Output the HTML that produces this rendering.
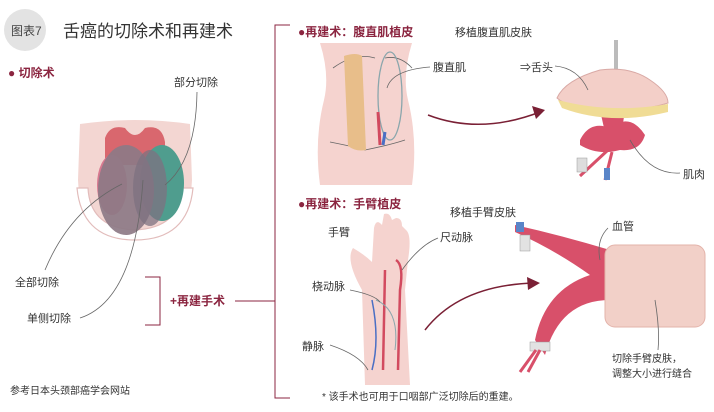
<!DOCTYPE html>
<html><head><meta charset="utf-8"><style>
html,body{margin:0;padding:0;background:#fff;}
svg{display:block;font-family:"Liberation Sans","Noto Sans CJK SC",sans-serif;}
.t{font-size:11px;fill:#333;}
.h{font-size:12px;font-weight:bold;fill:#8b2540;}
.ln{fill:none;stroke:#666;stroke-width:0.8;}
</style></head><body>
<svg width="714" height="412" viewBox="0 0 714 412">
<!-- title -->
<circle cx="25" cy="30" r="21" fill="#e3e3e3"/>
<text x="11" y="35" style="font-size:12px" fill="#444">图表7</text>
<text x="63" y="37" style="font-size:17px" fill="#333">舌癌的切除术和再建术</text>
<text x="8" y="77" class="h">● 切除术</text>
<text x="174" y="86" class="t">部分切除</text>
<!-- tongue -->
<path d="M80 124 Q135 116 190 124 L192 180 Q190 236 135 238 Q80 236 78 180 Z" fill="#f3d6d2"/>
<path d="M77 188 Q82 240 135 240 Q188 240 193 188 L182 188 Q180 228 135 230 Q90 228 88 188 Z" fill="#fff" stroke="#e2bcbb" stroke-width="1.2"/>
<path d="M105 138 Q110 124 125 128 Q135 142 145 128 Q162 124 165 142 L165 165 L105 165 Z" fill="#d9676e"/>
<ellipse cx="112" cy="185" rx="15" ry="30" fill="#d87990"/>
<ellipse cx="162" cy="183" rx="22" ry="38" fill="#4f9d8e"/>
<ellipse cx="126" cy="190" rx="28" ry="45" fill="#8d7a86" opacity="0.92"/>
<ellipse cx="150" cy="188" rx="17" ry="38" fill="#7e7280" opacity="0.75"/>
<path class="ln" d="M197 92 Q196 160 165 185"/>
<path class="ln" d="M122 184 Q70 210 45 270"/>
<path class="ln" d="M143 180 Q135 300 80 318"/>
<text x="15" y="286" class="t">全部切除</text>
<text x="27" y="322" class="t">单侧切除</text>
<path d="M145 277 H160 V325 H145" fill="none" stroke="#8b2540" stroke-width="1"/>
<text x="170" y="305" class="h">+再建手术</text>
<path d="M235 301 H275 M290 25 H275 V398 H290" fill="none" stroke="#8b2540" stroke-width="1"/>
<text x="10" y="394" style="font-size:10px" fill="#333">参考日本头颈部癌学会网站</text>
<!-- abdomen -->
<text x="298" y="36" class="h">●再建术：腹直肌植皮</text>
<text x="455" y="36" class="t">移植腹直肌皮肤</text>
<path d="M320 43 H412 Q402 75 408 100 Q418 140 412 185 H320 Q314 140 324 100 Q330 75 320 43 Z" fill="#f5d3cf"/>
<path d="M333 68 Q355 52 375 58 M385 58 Q400 55 412 68 M330 142 Q360 148 365 150 Q390 145 405 140" class="ln" stroke="#d7a8a6"/>
<path d="M344 56 Q356 52 362 56 L366 150 Q356 152 348 146 Z" fill="#e8be8a"/>
<ellipse cx="390" cy="96" rx="12" ry="44" fill="none" stroke="#8aa6ac" stroke-width="1.3"/>
<path d="M378 112 L380 145" stroke="#d24a5f" stroke-width="3"/><path d="M385 132 L383 145" stroke="#4a6fc4" stroke-width="3"/>
<path class="ln" d="M387 88 Q392 70 430 67"/>
<text x="433" y="71" class="t">腹直肌</text>
<path d="M428 115 Q480 135 540 112" fill="none" stroke="#7a2035" stroke-width="1.5"/>
<path d="M545 110 L532 106 L536 119 Z" fill="#7a2035"/>
<!-- tongue flap -->
<rect x="614" y="40" width="4" height="37" fill="#bbb"/>
<path d="M600 110 L625 110 L622 130 L604 128 Z" fill="#d8506a"/>
<path d="M580 140 Q590 120 610 128 Q630 112 645 135 Q640 152 620 150 Q598 156 580 145 Z" fill="#d8506a"/>
<path d="M557 98 Q565 80 600 70 Q630 66 650 80 Q668 92 668 103 Q640 112 600 110 Q568 108 557 98 Z" fill="#f3cfc8" stroke="#d9a9a5"/>
<path d="M558 100 Q610 114 668 104 L668 112 Q610 126 562 108 Z" fill="#f0dc95"/>
<path d="M608 150 L580 176 M612 152 L605 180" stroke="#d8506a" stroke-width="3"/>
<rect x="577" y="158" width="10" height="14" fill="#ddd" stroke="#999" stroke-width="0.5"/>
<rect x="604" y="168" width="6" height="12" fill="#5a85c8"/>
<path class="ln" d="M555 66 Q578 68 588 90"/>
<text x="520" y="71" class="t">⇒舌头</text>
<path class="ln" d="M630 140 Q650 175 680 173"/>
<text x="683" y="178" class="t">肌肉</text>
<!-- arm -->
<text x="298" y="208" class="h">●再建术：手臂植皮</text>
<text x="328" y="236" class="t">手臂</text>
<text x="450" y="216" class="t">移植手臂皮肤</text>
<text x="440" y="241" class="t">尺动脉</text>
<text x="612" y="230" class="t">血管</text>
<text x="312" y="290" class="t">桡动脉</text>
<text x="302" y="350" class="t">静脉</text>
<path d="M365 385 L362 290 Q345 260 353 248 Q365 255 372 262 L374 228 Q376 218 382 225 L384 214 Q390 212 392 220 L396 218 Q402 218 402 226 L406 230 Q412 235 408 260 L405 290 L410 385 Z" fill="#f5d3cf"/>
<path d="M385 270 L383 370 M396 260 Q404 265 400 290 L398 370" stroke="#d24a5f" stroke-width="2.5" fill="none"/>
<path d="M372 300 Q380 340 372 370" stroke="#4a6fc4" stroke-width="1.5" fill="none"/>
<path d="M376 300 Q400 310 395 350" stroke="#8aa6ac" stroke-width="1" fill="none"/>
<path class="ln" d="M402 270 Q420 245 438 238 M350 290 Q375 295 380 302 M330 345 Q360 355 368 370"/>
<path d="M425 330 Q460 285 535 283" fill="none" stroke="#7a2035" stroke-width="1.5"/>
<path d="M540 283 L527 277 L528 290 Z" fill="#7a2035"/>
<!-- skin flap -->
<path d="M515 225 Q560 235 610 250 L610 300 Q560 300 545 355 L535 340 Q545 290 590 275 Q555 250 515 232 Z" fill="#d8506a"/>
<rect x="605" y="245" width="100" height="82" rx="10" fill="#f2d0c8" stroke="#e3b3aa"/>
<rect x="516" y="222" width="8" height="10" fill="#5a85c8"/>
<rect x="520" y="235" width="10" height="16" fill="#e2e2e2" stroke="#999" stroke-width="0.5"/>
<rect x="530" y="342" width="20" height="9" fill="#e2e2e2" stroke="#999" stroke-width="0.5"/>
<path d="M536 350 L520 372 M540 350 L528 372" stroke="#d8506a" stroke-width="3"/>
<path class="ln" d="M600 260 Q596 240 608 228 M655 300 Q660 330 658 350"/>
<text x="612" y="362" style="font-size:10px" fill="#333">切除手臂皮肤，</text>
<text x="612" y="377" style="font-size:10px" fill="#333">调整大小进行缝合</text>
<text x="322" y="400" style="font-size:10px" fill="#333">* 该手术也可用于口咽部广泛切除后的重建。</text>
</svg>
</body></html>
